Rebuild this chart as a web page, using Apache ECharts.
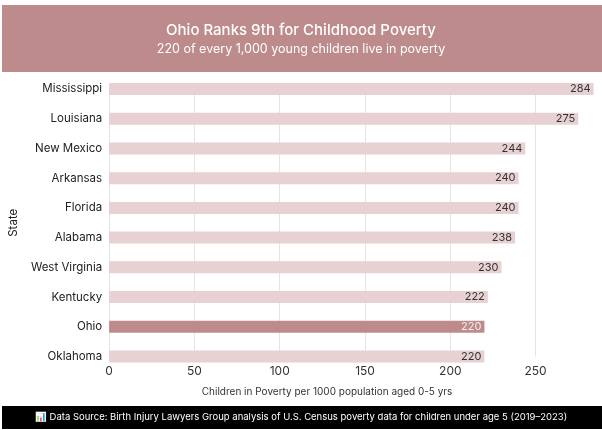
<!DOCTYPE html>
<html>
<head>
<meta charset="utf-8">
<title>Ohio Ranks 9th for Childhood Poverty</title>
<script src="https://cdn.jsdelivr.net/npm/echarts@6/dist/echarts.min.js"></script>
<style>
  html, body { margin: 0; padding: 0; background: #ffffff; }
  #chart { width: 602px; height: 430px; }
</style>
</head>
<body>
<div id="chart"></div>
<script>
// data (top to bottom)
var states = ["Mississippi", "Louisiana", "New Mexico", "Arkansas", "Florida",
              "Alabama", "West Virginia", "Kentucky", "Ohio", "Oklahoma"];
var poverty = [284, 275, 244, 240, 240, 238, 230, 222, 220, 220];
var highlight = "Ohio";
var xTicks = [0, 50, 100, 150, 200, 250];

var FONT = "Inter, 'Noto Sans', sans-serif";
var BAND = "#bd8b8b";
var BAR = "#e8d1d2";

var myChart = echarts.init(document.getElementById("chart"));

var seriesData = states.map(function(name, i){
	var isHi = name === highlight;
	return {
		value: poverty[i],
		itemStyle: { color: isHi ? BAND : BAR },
		label: { color: isHi ? "#f7eaea" : "#333333" }
	};
});

var option = {
	animation: false,
	textStyle: { fontFamily: FONT },
	graphic: [
		// title band
		{ type: "rect", left: 2, top: 5, shape: { width: 600, height: 67 }, style: { fill: BAND }, z: 0 },
		{ type: "text", left: "center", top: 23,
		  style: { text: "Ohio Ranks 9th for Childhood Poverty", fill: "#ffffff", font: "500 15px " + FONT } },
		{ type: "text", left: "center", top: 43,
		  style: { text: "220 of every 1,000 young children live in poverty", fill: "#ffffff", font: "400 12.5px " + FONT } },
		// footer band
		{ type: "rect", left: 2, top: 406, shape: { width: 600, height: 23 }, style: { fill: "#000000" }, z: 0 },
		{ type: "text", left: "center", top: 412,
		  style: { text: "📊 Data Source: Birth Injury Lawyers Group analysis of U.S. Census poverty data for children under age 5 (2019–2023)",
		           fill: "#ffffff", font: "400 9.5px " + FONT } }
	],
	// bars sit on the category ticks, first and last at the plot edges
	grid: { left: 105, right: 5, top: 89, bottom: 73.5, containLabel: false },
	xAxis: {
		type: "value",
		min: 0,
		max: 286,
		interval: 50,
		name: "Children in Poverty per 1000 population aged 0-5 yrs",
		nameLocation: "middle",
		nameGap: 30,
		nameTextStyle: { color: "#333333", fontSize: 10, padding: [0, 52, 0, 0] },
		axisLine: { show: false },
		axisTick: { show: false },
		axisLabel: {
			color: "#333333", fontSize: 12, margin: 9, showMaxLabel: false,
			formatter: function(v){ return xTicks.indexOf(v) >= 0 ? String(v) : ""; }
		},
		splitLine: { show: true, showMaxLine: false, lineStyle: { color: "#e4e4e4", width: 1 } }
	},
	yAxis: {
		type: "category",
		data: states,
		inverse: true,
		boundaryGap: false,
		name: "State",
		nameLocation: "middle",
		nameGap: 84,
		nameRotate: 90,
		nameTextStyle: { color: "#222222", fontSize: 11.5 },
		axisLine: { show: true, lineStyle: { color: "#e4e4e4" } },
		axisTick: { show: false },
		splitLine: { show: false },
		axisLabel: { color: "#222222", fontSize: 11.5, margin: 7 }
	},
	series: [{
		type: "bar",
		data: seriesData,
		barWidth: 12,
		label: {
			show: true,
			position: "insideRight",
			distance: 3,
			fontSize: 11,
			fontFamily: FONT
		}
	}]
};

myChart.setOption(option);
</script>
</body>
</html>
